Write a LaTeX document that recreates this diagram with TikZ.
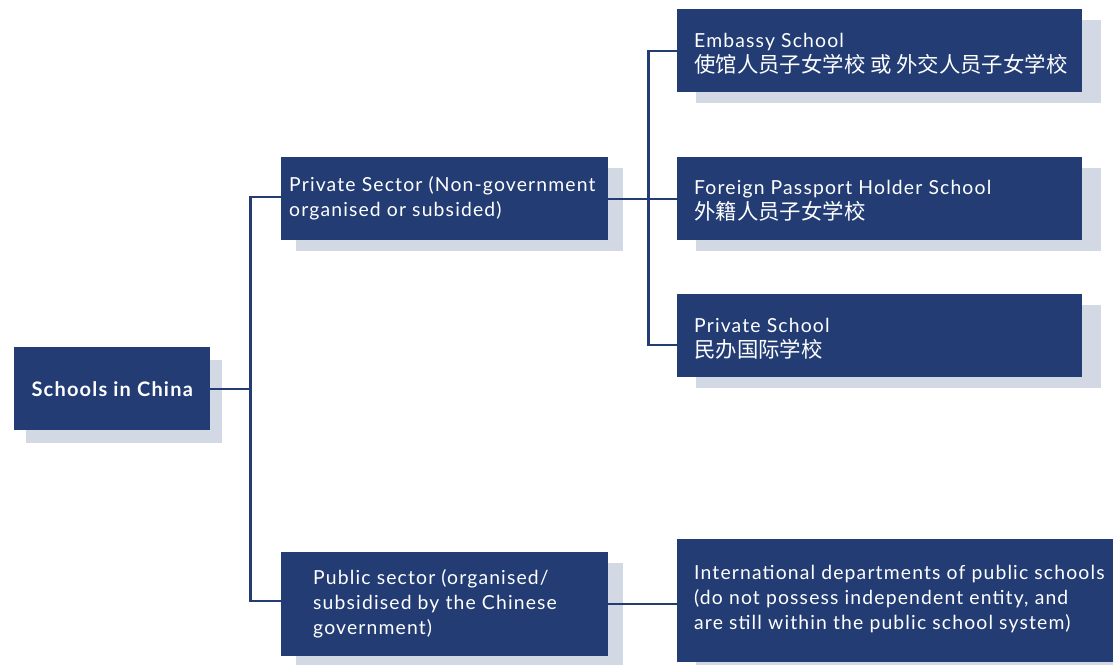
\documentclass[tikz,border=0pt]{standalone}
\usepackage{fontspec}
\setmainfont{Lato}[LetterSpace=6]
\newfontfamily\cjkf{Noto Sans CJK SC}
\usetikzlibrary{shadows}
\definecolor{navy}{HTML}{233D74}
\definecolor{shade}{HTML}{D2D8E4}
\newcommand{\zh}[1]{{\cjkf\fontsize{21.4}{25}\selectfont #1}}
\begin{document}
\begin{tikzpicture}[x=1pt,y=-1pt,
  box/.style={fill=navy, draw=none, inner sep=0pt, anchor=north west},
  rshadow/.style={drop shadow={shadow xshift=19pt, shadow yshift=-11pt, opacity=1, fill=shade}},
  mshadow/.style={drop shadow={shadow xshift=15pt, shadow yshift=-11pt, opacity=1, fill=shade}},
  lbl/.style={text=white, inner sep=0pt, anchor=west, align=left, font=\fontsize{19.35}{25}\selectfont},
  conn/.style={draw=navy, line width=2.2pt}
]
\useasboundingbox (0,0) rectangle (1113,664);
\clip (0,0) rectangle (1113,664);
% boxes
\node[box, minimum width=196pt, minimum height=83pt,
  drop shadow={shadow xshift=12pt, shadow yshift=-13pt, opacity=1, fill=shade},
  text=white, font=\bfseries\fontsize{20}{25}\selectfont] (root) at (14,347) {Schools in China};
\node[box, mshadow, minimum width=327pt, minimum height=83pt] (priv) at (281,157) {};
\node[box, rshadow, minimum width=405pt, minimum height=83pt] (emb) at (677,9) {};
\node[box, rshadow, minimum width=405pt, minimum height=83pt] (fp) at (677,157) {};
\node[box, rshadow, minimum width=405pt, minimum height=83pt] (ps) at (677,294) {};
\node[box, mshadow, minimum width=327pt, minimum height=104pt] (pub) at (281,552) {};
\node[box, rshadow, minimum width=440pt, minimum height=123pt] (intl) at (677,539) {};
% texts
\node[lbl] (priv-t) at ([xshift=8pt]priv.west) {Private Sector (Non-government\\organised or subsided)};
\node[lbl] (emb-t) at ([xshift=17pt,yshift=-3pt]emb.west) {Embassy School\\\zh{使馆人员子女学校 或 外交人员子女学校}};
\node[lbl] (fp-t) at ([xshift=17pt,yshift=-2.5pt]fp.west) {Foreign Passport Holder School\\\zh{外籍人员子女学校}};
\node[lbl] (ps-t) at ([xshift=17pt,yshift=-3pt]ps.west) {Private School\\\zh{民办国际学校}};
\node[lbl] (pub-t) at ([xshift=32pt]pub.west) {Public sector (organised/\\subsidised by the Chinese\\government)};
\node[lbl] (intl-t) at ([xshift=17pt,yshift=1.5pt]intl.west) {International departments of public schools\\(do not possess independent entity, and\\are still within the public school system)};
% connectors
\path (root.east) ++(40,0) coordinate (j1);
\path (priv.east) ++(40,0) coordinate (j2);
\draw[conn] (root.east) -- (j1);
\draw[conn] ([yshift=1.5pt]priv.west) -| (j1) |- ([yshift=3pt]pub.west);
\draw[conn] (priv.east) -- (fp.west);
\draw[conn] (emb.west) -| (j2) |- ([yshift=-9.5pt]ps.west);
\draw[conn] (pub.east) -- (pub.east -| intl.west);
\end{tikzpicture}
\end{document}
